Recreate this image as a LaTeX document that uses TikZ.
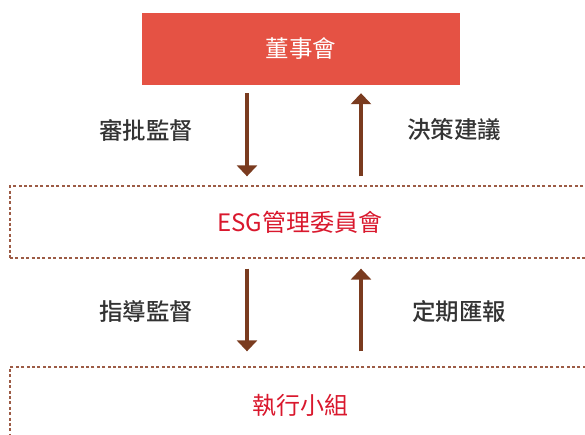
\documentclass[tikz,border=0pt]{standalone}
\usepackage{fontspec}
\setmainfont{Noto Sans CJK TC}[UprightFont=* Medium]
\newfontfamily\regfont{Noto Sans CJK TC}
\usepackage{tikz}
\usetikzlibrary{arrows.meta, positioning, calc}
\definecolor{boardred}{HTML}{E55244}
\definecolor{esgred}{HTML}{D9182D}
\definecolor{arrowbrown}{HTML}{7A3B1F}
\definecolor{dotbrown}{HTML}{9C5B45}
\definecolor{labelgray}{HTML}{333333}
\tikzset{
  boardbox/.style={fill=boardred, text=white, minimum width=318pt, minimum height=72pt, inner sep=0pt},
  dotbox/.style={draw=dotbrown, line width=1.3pt, dash pattern=on 3pt off 2.4pt, text=esgred, minimum width=580pt, minimum height=72pt, inner sep=0pt},
  flow/.style={draw=arrowbrown, line width=3.6pt, -{Triangle[width=20pt,length=11pt]}},
  side/.style={text=labelgray, font=\fontsize{23.5}{26}\selectfont}
}

\begin{document}
\begin{tikzpicture}[x=1pt, y=-1pt]
\useasboundingbox (0,0) rectangle (585,435);
\clip (0,0) rectangle (585,435);
% three levels
\node[boardbox, font=\regfont\fontsize{23.5}{26}\selectfont] (board) at (301,49) {董事會};
\node[dotbox, font=\regfont\fontsize{24}{26}\selectfont] (esg) at (300,222) {ESG管理委員會};
\node[dotbox, minimum height=80pt] (exec) at (300,407) {};
\node[text=esgred, font=\regfont\fontsize{24}{26}\selectfont] (execlabel) at (300,405) {執行小組};
% arrows between levels
\draw[flow] ([xshift=-54pt, yshift=-8pt]board.south) -- ([xshift=-53pt, yshift=9pt]esg.north);
\draw[flow] ([xshift=61pt, yshift=9pt]esg.north) -- ([xshift=60pt, yshift=-8pt]board.south);
\draw[flow] ([xshift=-53pt, yshift=-10pt]esg.south) -- ([xshift=-53pt, yshift=15pt]exec.north);
\draw[flow] ([xshift=61pt, yshift=15pt]exec.north) -- ([xshift=61pt, yshift=-10pt]esg.south);
% side labels
\node[side] (approve) at (146,130) {審批監督};
\node[side] (advise) at (454,130) {決策建議};
\node[side] (guide) at (146,312) {指導監督};
\node[side] (report) at (459,312) {定期匯報};
\end{tikzpicture}
\end{document}
